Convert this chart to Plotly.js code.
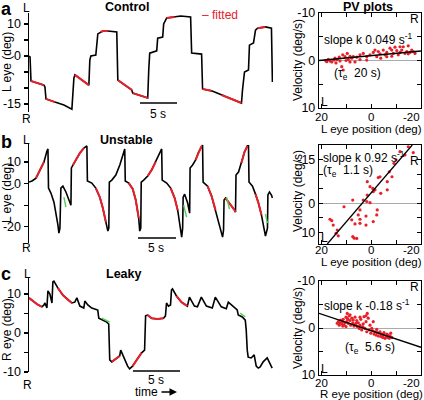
<!DOCTYPE html>
<html><head><meta charset="utf-8">
<script src="https://cdn.plot.ly/plotly-3.0.1.min.js"></script>
<style>html,body{margin:0;padding:0;background:#fff}#chart{width:424px;height:400px}</style>
</head><body><div id="chart"></div>
<script>
// ---------- Panel a: Control (time s, L eye deg) ----------
const aTime = [0,0.14,0.27,1.22,2.03,2.16,2.3,3.51,4.73,5.81,5.95,6.08,6.22,7.16,8.11,8.24,8.38,9.05,9.19,9.32,10.0,10.68,11.89,12.03,12.97,13.92,14.05,15.0,16.08,16.22,16.35,17.3,17.43,18.11,18.24,18.65,19.73,20.54,21.89,22.03,23.38,23.51,24.73,26.08,27.43,28.78,28.92,29.19,29.73,29.86,30.41,30.68,30.95,32.03,32.84,32.97];
const aPos  = [0,-0.3,-7.8,-8.4,-9.1,-9.7,-13.4,-14.4,-15.3,-16.6,-12.2,-6.9,-5.9,-7.5,-9.1,-1.3,0,0.3,5.6,6.9,7.8,7.8,7.5,-7.5,-9.1,-10.6,-11.6,-12.2,-13.1,-4.4,0.9,1.6,5.6,5.9,10.0,11.9,12.2,12.5,12.2,0.9,0.6,-10.3,-10.9,-12.2,-13.4,-14.7,-10.6,-5.0,-4.4,3.4,4.1,8.1,8.7,9.1,8.7,-8.1];
const aFitTime = [0.27,1.22,2.03,null,2.3,3.51,null,6.22,7.16,8.11,null,9.7,10.0,10.68,null,12.03,12.97,13.92,null,14.05,15.0,16.08,null,18.65,19.73,null,23.51,24.73,null,26.08,27.43,28.78,null,30.95,32.03];
const aFitPos  = [-7.8,-8.4,-9.1,null,-13.4,-14.4,null,-5.9,-7.5,-9.1,null,7.5,7.8,7.8,null,-7.5,-9.1,-10.6,null,-11.6,-12.2,-13.1,null,11.9,12.2,null,-10.3,-10.9,null,-12.2,-13.4,-14.7,null,8.7,9.1];
const aTicks = [10,0,-15];
const aTickText = ['10','0','-15'];
const aMinorTicks = [5,-5,-10];

// ---------- Panel b: Unstable ----------
const bTime = [0,0.41,0.95,1.49,2.03,2.43,2.57,2.64,2.97,3.38,3.65,3.92,4.05,4.19,4.32,4.59,5.0,5.54,5.68,5.74,5.95,6.35,6.89,7.43,7.84,7.91,8.51,9.05,9.59,10.0,10.41,10.68,10.81,10.88,11.22,11.76,12.3,12.7,12.97,13.04,13.51,14.05,14.46,14.86,15.0,15.14,15.2,15.54,16.08,16.62,17.16,17.7,17.97,18.04,18.65,19.19,19.73,20.14,20.54,20.68,20.81,20.88,21.08,21.49,21.76,21.82,22.16,22.57,22.97,23.38,23.51,23.58,24.19,24.73,25.27,25.81,26.22,26.35,26.42,26.62,27.16,27.84,27.97,28.04,28.38,28.78,29.19,29.59,29.73,29.8,30.27,30.68,31.08,31.49,31.76,32.03,32.3,32.36,32.57,32.84,32.97];
const bPos  = [0.7,1.2,2.5,6.3,10.0,15.0,16.0,-2.1,-4.4,-8.6,-13.2,-19.2,-22.9,-20.6,-2.1,-1.2,-3.9,-9.0,-10.0,7.2,8.6,10.9,14.1,16.4,17.4,1.2,0.2,-2.1,-6.3,-11.3,-17.8,-22.0,-20.6,0.7,1.6,3.9,8.6,13.2,16.0,1.2,0.2,-2.5,-7.6,-16.0,-22.0,-20.6,0.7,1.6,3.5,6.3,10.0,14.1,16.0,1.6,0.2,-2.1,-6.7,-12.3,-20.6,-24.8,-20.6,-6.3,-4.9,-9.0,-13.7,7.2,8.6,10.9,14.6,17.4,17.8,0.7,-1.2,-5.8,-12.3,-19.7,-24.8,-21.5,-7.6,-6.7,-9.0,-12.3,-13.2,3.9,5.3,9.5,14.6,17.4,17.4,0.7,-1.2,-4.9,-9.0,-14.6,-19.2,-24.3,-20.6,-5.3,-3.9,-5.3,-6.7];
const bFitTime = [0.95,1.49,2.03,null,5.95,6.35,6.89,7.43,null,9.05,9.59,10.0,10.41,null,13.51,14.05,14.46,14.86,null,16.08,16.62,17.16,null,19.19,19.73,20.14,null,22.57,22.97,23.38,null,24.19,24.73,25.27,null,26.62,27.16,27.84,27.97,null,28.78,29.19,29.59,null,30.68,31.08,31.49];
const bFitPos  = [2.5,6.3,10.0,null,8.6,10.9,14.1,16.4,null,-2.1,-6.3,-11.3,-17.8,null,0.2,-2.5,-7.6,-16.0,null,3.5,6.3,10.0,null,-2.1,-6.7,-12.3,null,10.9,14.6,17.4,null,-1.2,-5.8,-12.3,null,-6.7,-9.0,-12.3,-13.2,null,9.5,14.6,17.4,null,-4.9,-9.0,-14.6];
const bGreenTime = [4.73,5.0,null,20.95,21.35,null,26.76,27.16,null,32.03,32.3];
const bGreenPos  = [-6.3,-10.9,null,-10.0,-15.5,null,-6.3,-11.8,null,-14.1,-18.3];
const bTicks = [10,0,-20];
const bTickText = ['10','0','-20'];
const bMinorTicks = [-10];

// ---------- Panel c: Leaky (R eye) ----------
const cTime = [0,0.43,0.85,1.38,1.6,1.7,1.91,2.02,2.23,2.45,2.55,2.66,3.09,3.62,4.15,4.57,4.89,5.11,5.43,5.85,5.96,6.28,6.7,7.34,7.45,7.87,8.3,8.51,8.62,8.83,9.26,9.68,9.79,10.11,10.53,10.74,11.06,11.49,12.02,12.34,12.45,12.66,13.09,13.72,14.36,14.57,14.68,14.89,15.11,15.21,15.32,15.74,16.28,16.91,17.13,17.66,17.98,18.4,18.94,19.57,19.89,20.53,21.06,21.28,21.81,22.23,22.34,22.77,23.09,23.19,23.3,23.4,23.72,23.94,24.04,24.26,24.47,24.68,25.0,25.43,25.64,25.96];
const cPos  = [9.0,8.2,7.4,6.7,7.2,7.7,6.4,10.8,10.0,7.7,13.1,13.3,11.5,9.7,8.5,7.7,7.9,9.0,6.9,6.4,8.2,7.2,6.4,5.9,3.8,3.3,2.8,2.3,-6.9,-7.4,-6.7,-5.9,-4.4,-6.4,-8.5,-9.2,-8.5,-6.9,-5.1,-4.4,4.4,4.6,3.8,3.6,3.8,4.4,7.7,6.9,7.2,11.0,11.3,9.5,7.9,6.9,9.2,6.9,6.7,9.2,6.9,6.4,9.2,6.7,6.2,7.9,6.7,5.9,4.6,4.1,3.3,0.8,-4.4,-6.2,-6.4,-5.9,-5.6,-8.5,-9.0,-8.7,-7.4,-6.4,-7.4,-9.0];
const cFitTime = [0,0.43,0.85,1.38,null,3.09,3.62,4.15,4.57,null,8.83,9.26,9.68,null,11.06,11.49,12.02,null,12.66,13.09,13.72,14.36,null,15.74,16.28,16.91];
const cFitPos  = [9.0,8.2,7.4,6.7,null,11.5,9.7,8.5,7.7,null,-7.4,-6.7,-5.9,null,-8.5,-6.9,-5.1,null,4.6,3.8,3.6,3.8,null,9.5,7.9,6.9];
const cGreenTime = [7.77,8.62,null,22.55,23.09];
const cGreenPos  = [3.8,2.8,null,5.1,4.1];
const cTicks = [10,0,-10];
const cTickText = ['10','0','-10'];
const cMinorTicks = [5,-5];

// ---------- PV plots (position deg, velocity deg/s) ----------
const aPvPos = [18.1,17.7,17.1,16.4,15.7,14.8,14.4,14.0,13.5,12.7,12.4,11.3,10.4,9.5,8.4,9.1,7.7,7.1,10.0,11.7,11.1,5.7,4.4,3.1,1.7,0.4,-0.9,-1.6,-2.9,-3.6,-4.9,-5.6,-6.3,-7.6,-8.3,-8.9,-9.6,-10.3,-10.9,-11.6,-12.3,-12.9,-13.6,-14.3,-14.9,-15.6,-16.3,-16.9,-17.6,-6.3,-2.3,1.7,4.4,6.4,8.4,-3.9,-8.3,-11.6,-14.9];
const aPvVel = [0.04,0.25,-0.24,0.1,0.3,-0.1,-0.5,0.5,-0.2,-0.7,0.1,-1.2,-0.8,-1.5,-0.9,-0.2,-0.5,-0.8,0.0,1.3,2.0,-0.7,-1.2,-1.5,-0.8,-1.2,-1.7,-2.2,-1.9,-1.4,-2.2,-1.2,-1.7,-2.6,-2.2,-1.5,-2.8,-2.1,-1.2,-1.7,-2.2,-2.9,-1.5,-1.9,-1.4,-1.7,-2.2,-1.9,-1.5,-0.8,-0.8,-0.1,-0.2,0.3,0.3,-0.5,-0.9,-2.9,-3.1];
const aLinePos = [20.8,-20];
const aLineVel = [0.0,-2.0];

const bPvPos = [-14.9,-11.6,-13.6,-10.0,-9.2,-7.3,-3.6,-2.9,-6.5,1.5,0.4,-0.7,-1.6,-0.9,-6.5,-3.9,3.1,1.7,0.4,7.3,-2.5,4.4,10.8,2.0,5.1,4.4,7.7,2.0,4.4,6.4,16.4,15.7,15.1,13.5,14.0,13.1,7.3,6.7,5.7,-0.9,-2.3,1.5,-8.4,-16.9];
const bPvVel = [-19.4,-17.7,-16.6,-14.9,-13.7,-10.8,-9.1,-8.8,-7.4,-7.4,-5.7,-5.1,-4.6,-4.0,-4.6,-3.4,-1.1,-0.6,-0.2,-1.1,2.3,2.3,1.2,4.4,4.0,5.5,5.7,7.5,6.9,7.1,5.5,6.0,7.5,9.2,10.3,11.2,11.5,12.0,12.1,6.3,4.0,-2.8,-9.1,-17.4];
const bLinePos = [17.5,-16.5];
const bLineVel = [14,-20];

const cPvPos = [13.5,13.1,12.7,12.4,12.1,11.7,11.3,11.1,10.8,10.4,10.0,9.7,9.5,9.2,9.1,8.7,8.4,8.1,7.7,7.3,7.1,6.8,6.4,6.0,5.7,5.5,5.1,4.7,4.4,4.1,3.7,3.3,3.1,2.8,2.4,2.0,1.7,1.5,1.1,0.7,0.4,0.1,-0.3,-0.7,-0.9,-1.2,-1.6,-2.0,-2.3,-2.5,-2.9,-3.3,-3.6,-3.9,-4.3,-4.7,-4.9,-5.2,-5.6,-6.0,-6.3,-6.5,-6.9,-7.3,-7.6,-7.9,-8.3,10.0,11.3,8.4,9.5,2.0,4.4,6.4];
const cPvVel = [-1.0,-1.35,-0.6,-1.1,-1.7,-0.9,-1.35,-1.85,-0.6,-1.1,-2.3,-1.35,-3.1,-1.85,-1.0,-2.6,-1.6,-0.6,-2.1,-1.1,-1.7,-0.4,-2.3,-1.0,-1.6,-0.3,-1.1,0.1,-0.6,-1.85,0.4,-0.3,-0.9,-2.4,0.1,-1.35,0.8,-3.1,-2.1,0.4,-0.6,1.1,0.1,0.6,-1.35,1.3,0.8,1.5,0.3,1.0,1.7,1.1,0.8,1.8,1.3,2.0,1.5,1.0,2.2,1.7,1.3,2.0,1.5,2.2,1.7,1.1,2.0,-0.3,-0.4,-2.8,-2.1,-2.6,-2.3,-0.6];
const cLinePos = [20.8,-20];
const cLineVel = [-3.1,4.1];

const pvXTicks = [20,10,0,-10,-20];
const pvXLabels = ['20','0'];
const pvXLabelPos = [20,0];

// ---------- helpers / styling ----------
const W = 424, H = 400;
const px = x => x / W;
const py = y => 1 - y / H;
const FONT = '"Liberation Sans", Arial, Helvetica, sans-serif';
const RED = '#e8202a', GREEN = '#55cc55', BLK = '#000';
const FS = 12;

function line(x, y, xa, ya, color, w) {
  return {x: x, y: y, xaxis: xa, yaxis: ya, type: 'scatter', mode: 'lines',
          line: {color: color, width: w}, connectgaps: false, hoverinfo: 'skip'};
}
function pts(x, y, xa, ya) {
  return {x: x, y: y, xaxis: xa, yaxis: ya, type: 'scatter', mode: 'markers',
          marker: {color: RED, size: 3.2}, hoverinfo: 'skip'};
}

const data = [
  line(aTime, aPos, 'x', 'y', BLK, 1.6),
  line(aFitTime, aFitPos, 'x', 'y', RED, 2),
  line(bTime, bPos, 'x2', 'y2', BLK, 1.6),
  line(bFitTime, bFitPos, 'x2', 'y2', RED, 2),
  line(bGreenTime, bGreenPos, 'x2', 'y2', GREEN, 1.4),
  line(cTime, cPos, 'x3', 'y3', BLK, 1.6),
  line(cFitTime, cFitPos, 'x3', 'y3', RED, 2),
  line(cGreenTime, cGreenPos, 'x3', 'y3', GREEN, 1.4),
  pts(aPvPos, aPvVel, 'x4', 'y4'),
  line(aLinePos, aLineVel, 'x4', 'y4', BLK, 1.3),
  pts(bPvPos, bPvVel, 'x5', 'y5'),
  line(bLinePos, bLineVel, 'x5', 'y5', BLK, 1.3),
  pts(cPvPos, cPvVel, 'x6', 'y6'),
  line(cLinePos, cLineVel, 'x6', 'y6', BLK, 1.3)
];

function leftY(top, bot, range, tv, tt, minor, xa) {
  return {domain: [py(bot), py(top)], range: range, anchor: xa, showline: true, linecolor: BLK,
          linewidth: 1.5, ticks: 'outside', ticklen: 4, tickwidth: 1.2, tickcolor: BLK,
          tickmode: 'array', tickvals: tv, ticktext: tt, showgrid: false, zeroline: false,
          minor: {tickmode: 'array', tickvals: minor, ticks: 'outside', ticklen: 4, tickwidth: 1.2, tickcolor: BLK, showgrid: false},
          tickfont: {size: 12.5, color: BLK}, fixedrange: true};
}
function leftX(range, ya) {
  return {domain: [px(29), px(273)], range: range, anchor: ya, visible: false, fixedrange: true};
}
function pvX(ya) {
  return {domain: [px(319), px(421)], range: [20.8, -20], anchor: ya, showline: true, mirror: 'allticks',
          linecolor: BLK, linewidth: 1.2, ticks: 'inside', ticklen: 4, tickcolor: BLK,
          tickmode: 'array', tickvals: pvXTicks, showticklabels: false, showgrid: false, zeroline: false,
          fixedrange: true};
}
function pvY(top, bot, range, tv, tt, minor, xa) {
  return {domain: [py(bot), py(top)], range: range, anchor: xa, showline: true, mirror: 'allticks',
          linecolor: BLK, linewidth: 1.2, ticks: 'inside', ticklen: 4, tickcolor: BLK,
          tickmode: 'array', tickvals: tv, ticktext: tt, showgrid: false,
          minor: {tickmode: 'array', tickvals: minor, ticks: 'inside', ticklen: 4, tickcolor: BLK, showgrid: false},
          zeroline: true, zerolinecolor: '#aaaaaa',
          zerolinewidth: 1, tickfont: {size: 12.5, color: BLK}, fixedrange: true};
}

function ann(text, x, y, o) {
  return Object.assign({text: text, x: px(x), y: py(y), xref: 'paper', yref: 'paper',
    showarrow: false, xanchor: 'center', yanchor: 'middle', font: {size: FS, color: BLK}}, o || {});
}
// x tick labels of PV plots
function pvXLabelAnns(xa, yPix) {
  return pvXLabels.map((t, i) => ({text: t, x: pvXLabelPos[i], xref: xa, y: py(yPix), yref: 'paper',
    showarrow: false, xanchor: 'center', yanchor: 'middle', font: {size: 11.5, color: BLK}}))
    .concat([ann('-20', 422, yPix, {xanchor: 'right', font: {size: 11.5}})]);
}

const annotations = [
  ann('<b>a</b>', 6, 9, {font: {size: 18}}),
  ann('<b>b</b>', 6, 142, {font: {size: 18}}),
  ann('<b>c</b>', 6, 274, {font: {size: 18}}),
  ann('<b>Control</b>', 127, 7, {font: {size: 12.5}}),
  ann('<b>Unstable</b>', 126, 140, {font: {size: 12.5}}),
  ann('<b>Leaky</b>', 123, 274, {font: {size: 12.5}}),
  ann('<b>PV plots</b>', 368, 7, {font: {size: 12.5}}),
  ann('– fitted', 220, 15, {font: {size: 12, color: RED}}),
  ann('L', 26, 8), ann('R', 26, 119),
  ann('L', 26, 140), ann('R', 26, 248),
  ann('L', 27, 274), ann('R', 27, 385),
  ann('L eye (deg)', 7, 62, {textangle: -90}),
  ann('L eye (deg)', 7, 193, {textangle: -90}),
  ann('R eye (deg)', 7, 330, {textangle: -90}),
  ann('Velocity (deg/s)', 298, 60, {textangle: -90}),
  ann('Velocity (deg/s)', 298, 191, {textangle: -90}),
  ann('Velocity (deg/s)', 298, 328, {textangle: -90}),
  ann('L eye position (deg)', 371, 128.5, {font: {size: 11.5}}),
  ann('L eye position (deg)', 371, 262, {font: {size: 11.5}}),
  ann('R eye position (deg)', 371, 394, {font: {size: 11.5}}),
  ann('5 s', 158, 114), ann('5 s', 156, 248), ann('5 s', 156, 380),
  ann('time', 146, 392),
  {x: px(177), y: py(392), xref: 'paper', yref: 'paper', ax: -17, ay: 0, showarrow: true,
   arrowhead: 2, arrowsize: 1, arrowwidth: 1.5, arrowcolor: BLK, text: ''},
  ann('slope k 0.049 s<sup>-1</sup>', 368, 39),
  ann('(τ<sub>e</sub>  20 s)', 357, 74),
  ann('slope k 0.92 s<sup>-1</sup>', 321, 157, {xanchor: 'left'}),
  ann('(τ<sub>e</sub>  1.1 s)', 321, 171, {xanchor: 'left'}),
  ann('slope k -0.18 s<sup>-1</sup>', 367, 305),
  ann('(τ<sub>e</sub>  5.6 s)', 370, 348),
  ann('R', 414, 19), ann('L', 324, 102),
  ann('R', 414, 161), ann('L', 324, 238),
  ann('R', 414, 287), ann('L', 324, 369)
].concat(pvXLabelAnns('x4', 117), pvXLabelAnns('x5', 250), pvXLabelAnns('x6', 382.5));

const shapes = [
  {type: 'line', xref: 'paper', yref: 'paper', x0: px(140), x1: px(177), y0: py(103), y1: py(103), line: {color: BLK, width: 1.5}},
  {type: 'line', xref: 'paper', yref: 'paper', x0: px(138), x1: px(176), y0: py(238), y1: py(238), line: {color: BLK, width: 1.5}},
  {type: 'line', xref: 'paper', yref: 'paper', x0: px(133), x1: px(180), y0: py(371), y1: py(371), line: {color: BLK, width: 1.5}}
];

const layout = {
  width: W, height: H, margin: {l: 0, r: 0, t: 0, b: 0},
  paper_bgcolor: '#fff', plot_bgcolor: 'rgba(0,0,0,0)',
  showlegend: false, font: {family: FONT, size: FS, color: BLK},
  xaxis: leftX([0, 33.05], 'y'),
  yaxis: leftY(13, 112, [-17.5, 13.44], aTicks, aTickText, aMinorTicks, 'x'),
  xaxis2: leftX([0, 33.05], 'y2'),
  yaxis2: leftY(143, 243, [-27.5, 18.75], bTicks, bTickText, bMinorTicks, 'x2'),
  xaxis3: leftX([0, 26.05], 'y3'),
  yaxis3: leftY(278, 372, [-10, 14.1], cTicks, cTickText, cMinorTicks, 'x3'),
  xaxis4: pvX('y4'),
  yaxis4: pvY(13, 108, [10, -10], [-10,0,10], ['-10','0','10'], [-5,5], 'x4'),
  xaxis5: pvX('y5'),
  yaxis5: pvY(145, 244, [14, -20], [-15,0,10], ['-15','0','10'], [-20,-10,-5,5], 'x5'),
  xaxis6: pvX('y6'),
  yaxis6: pvY(281, 375, [10, -10], [-10,0,10], ['-10','0','10'], [-5,5], 'x6'),
  annotations: annotations,
  shapes: shapes
};

Plotly.newPlot('chart', data, layout, {staticPlot: true, displayModeBar: false});
</script>
</body></html>
